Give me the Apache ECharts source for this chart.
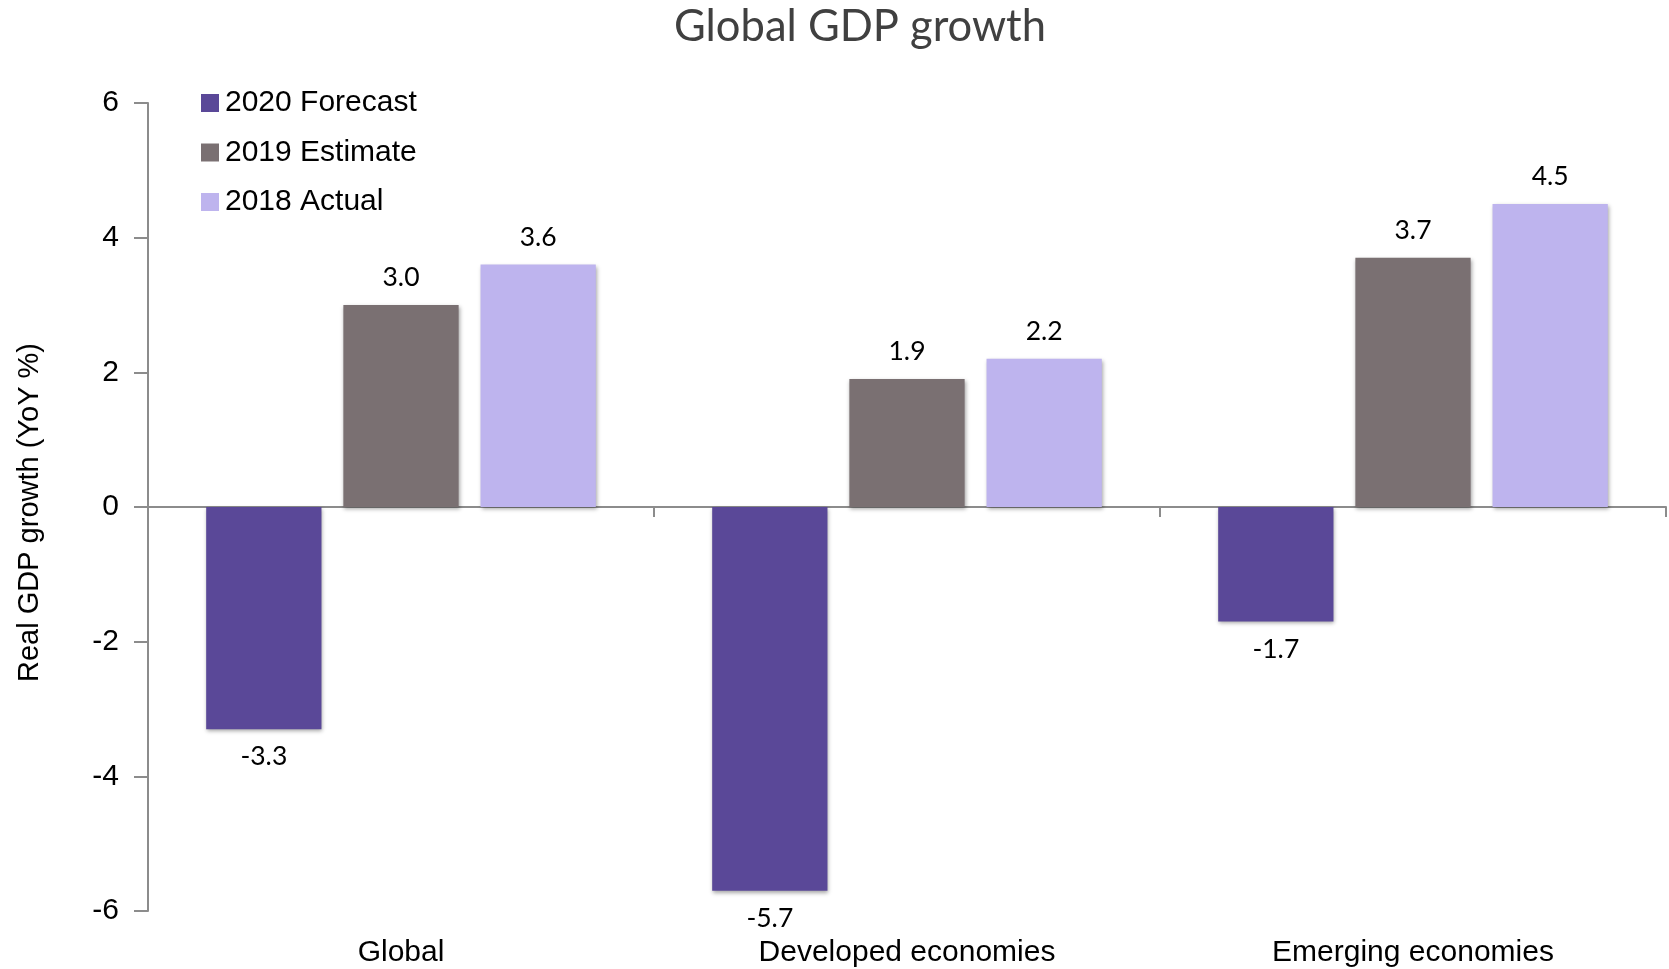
<!DOCTYPE html>
<html>
<head>
<meta charset="utf-8">
<script src="https://cdn.jsdelivr.net/npm/echarts@6/dist/echarts.min.js"></script>
<style>
  html, body { margin: 0; padding: 0; background: #fff; }
  #chart { width: 1669px; height: 969px; }
</style>
</head>
<body>
<div id="chart"></div>
<script>
// Real GDP growth by economy group, year over year (%)
const categories = ['Global', 'Developed economies', 'Emerging economies'];
const forecast2020 = [-3.3, -5.7, -1.7];
const estimate2019 = [3.0, 1.9, 3.7];
const actual2018 = [3.6, 2.2, 4.5];
const seriesNames = ['2020 Forecast', '2019 Estimate', '2018 Actual'];
const seriesColors = ['#5a4898', '#7a7072', '#beb4ee'];

const labelFont = 'Lato, "Open Sans", sans-serif';
const axisFont = '"Liberation Sans", Arial, sans-serif';

function barSeries(name, data, color) {
  return {
    name: name,
    type: 'bar',
    data: data,
    barGap: '19%',
    barCategoryGap: '23%',
    itemStyle: {
      color: color,
      shadowColor: 'rgba(0,0,0,0.35)',
      shadowBlur: 4,
      shadowOffsetX: 1,
      shadowOffsetY: 2
    },
    label: {
      show: true,
      position: data.every(v => v < 0) ? 'bottom' : 'top',
      distance: 14,
      fontFamily: labelFont,
      fontSize: 26.5,
      color: '#000',
      formatter: p => p.value.toFixed(1)
    }
  };
}

const chart = echarts.init(document.getElementById('chart'), null, { renderer: 'canvas' });
chart.setOption({
  animation: false,
  backgroundColor: '#fff',
  title: {
    text: 'Global GDP growth',
    left: 855,
    textAlign: 'center',
    top: 0,
    textStyle: {
      fontFamily: labelFont,
      fontWeight: 'normal',
      fontSize: 43.5,
      color: '#404040'
    }
  },
  legend: {
    orient: 'vertical',
    left: 196,
    top: 83,
    itemWidth: 18,
    itemHeight: 18,
    itemGap: 19.5,
    icon: 'rect',
    textStyle: {
      fontFamily: axisFont,
      fontSize: 30,
      color: '#000',
      padding: [0, 0, 0, 1]
    },
    data: seriesNames
  },
  grid: {
    left: 148,
    right: 3,
    top: 103,
    bottom: 58,
    containLabel: false
  },
  xAxis: {
    type: 'category',
    data: categories,
    axisLine: { onZero: true, lineStyle: { color: '#8c8c8c', width: 2 } },
    axisTick: { show: true, length: 10, lineStyle: { color: '#8c8c8c', width: 2 } },
    axisLabel: {
      fontFamily: axisFont,
      fontSize: 30,
      color: '#000',
      margin: 27
    }
  },
  yAxis: {
    type: 'value',
    min: -6,
    max: 6,
    interval: 2,
    name: 'Real GDP growth (YoY %)',
    nameLocation: 'middle',
    nameGap: 104,
    nameTextStyle: {
      fontFamily: axisFont,
      fontSize: 29,
      color: '#000',
      padding: [0, 11, 0, 0]
    },
    axisLine: { show: true, lineStyle: { color: '#8c8c8c', width: 2 } },
    axisTick: { show: true, inside: false, length: 14, lineStyle: { color: '#8c8c8c', width: 2 } },
    splitLine: { show: false },
    axisLabel: {
      fontFamily: axisFont,
      fontSize: 30,
      color: '#000',
      margin: 29
    }
  },
  series: [
    barSeries(seriesNames[0], forecast2020, seriesColors[0]),
    barSeries(seriesNames[1], estimate2019, seriesColors[1]),
    barSeries(seriesNames[2], actual2018, seriesColors[2])
  ]
});
</script>
</body>
</html>
